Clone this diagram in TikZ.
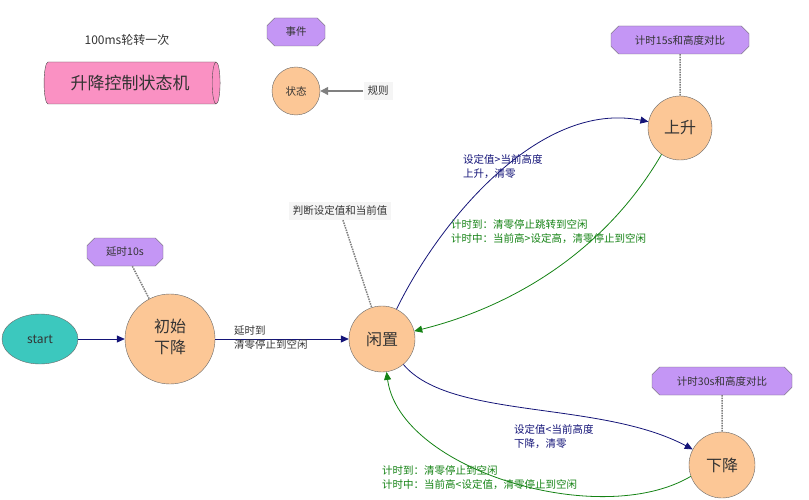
\documentclass[tikz,border=0pt]{standalone}
\usepackage{fontspec}
\setmainfont{Noto Sans CJK SC}
\usetikzlibrary{shapes.geometric, shapes.misc, arrows.meta}
\definecolor{zhuang}{RGB}{252,199,150}
\definecolor{shijian}{RGB}{196,150,245}
\definecolor{fen}{RGB}{250,145,195}
\definecolor{qing}{RGB}{60,200,190}
\definecolor{lan}{RGB}{20,20,120}
\definecolor{lv}{RGB}{20,130,20}
\begin{document}
\begin{tikzpicture}[x=1pt, y=-1pt]
            \tikzstyle{every node} = [font=\fontsize{10.5}{14}\selectfont, text=black!80]
            \tikzstyle{zt}  = [circle, draw=black!60, fill=zhuang, inner sep=0pt]
            \tikzstyle{sj}  = [chamfered rectangle, chamfered rectangle angle=45, chamfered rectangle xsep=4pt, draw=black!60, fill=shijian, minimum height=28pt, inner sep=4pt]
            \tikzstyle{gz}  = [fill=black!4, inner sep=4pt]
            \tikzstyle{dian} = [densely dotted, line width=1.5pt, draw=black!50]
            \tikzstyle{lanjt} = [thick, draw=lan, -{Triangle[length=8pt, width=7pt]}]
            \tikzstyle{lvjt} = [thick, draw=lv, -{Triangle[length=8pt, width=7pt]}]
            \tikzstyle{biao} = [align=left, anchor=west, inner sep=1pt]

            \useasboundingbox (0,0) rectangle (809,500);

            % legend
            \node (zhouqi) at (127,40) {\fontsize{12}{14}\selectfont 100ms轮转一次};
            \node[cylinder, shape border rotate=0, draw=black!70, fill=fen, aspect=0.5, minimum width=42pt, minimum height=176pt, inner sep=0pt] (jiqi) at (130,83) {\fontsize{17}{19}\selectfont 升降控制状态机};
            \node[sj, minimum width=58pt] (shijian) at (296,32) {事件};
            \node[zt, minimum size=48pt] (zhuangtai) at (296,91) {状态};
            \node[gz] (guize) at (378,91) {规则};
            \draw[very thick, draw=black!50, -{Triangle[length=8pt, width=8pt]}] (guize) -- (zhuangtai);

            % states
            \node[ellipse, draw=black!60, fill=qing, minimum width=76pt, minimum height=50pt] (start) at (40,339) {\fontsize{12}{14}\selectfont start};
            \node[zt, minimum size=90pt] (chushi) at (170,339) {\fontsize{16}{21}\selectfont\begin{tabular}{c}初始\\下降\end{tabular}};
            \node[zt, minimum size=66pt] (xianzhi) at (382,339) {\fontsize{16}{19}\selectfont 闲置};
            \node[zt, minimum size=64pt] (shangsheng) at (680,128) {\fontsize{16}{19}\selectfont 上升};
            \node[zt, minimum size=66pt] (xiajiang) at (722,465) {\fontsize{16}{19}\selectfont 下降};

            % notes
            \node[sj, minimum width=76pt] (yanshi) at (125,252) {延时10s};
            \node[gz] (panduan) at (340,211) {判断设定值和当前值};
            \node[sj, minimum width=138pt] (ji15) at (680,40) {计时15s和高度对比};
            \node[sj, minimum width=140pt] (ji30) at (722,381) {计时30s和高度对比};
            \draw[dian] (yanshi) -- (chushi);
            \draw[dian] (panduan) -- (xianzhi);
            \draw[dian] (ji15) -- (shangsheng);
            \draw[dian] (ji30) -- (xiajiang);

            % transitions
            \draw[lanjt] (start) -- (chushi);
            \draw[lanjt] (chushi) -- (xianzhi);
            \node[biao] (l1) at (233,338) {延时到\\清零停止到空闲};
            \draw[lanjt] (xianzhi) .. controls (440,220) and (540,100) .. (shangsheng);
            \node[biao, text=lan] (l2) at (462,167) {设定值>当前高度\\上升，清零};
            \draw[lvjt] (shangsheng.235) .. controls (600,260) and (500,310) .. (xianzhi);
            \node[biao, text=lv] (l3) at (450,232) {计时到：清零停止跳转到空闲\\计时中：当前高>设定高，清零停止到空闲};
            \draw[lanjt] (xianzhi) .. controls (450,420) and (600,400) .. (xiajiang);
            \node[biao, text=lan] (l4) at (513,437) {设定值<当前高度\\下降，清零};
            \draw[lvjt] (xiajiang.200) .. controls (600,530) and (400,470) .. (xianzhi);
            \node[biao, text=lv] (l5) at (381,478) {计时到：清零停止到空闲\\计时中：当前高<设定值，清零停止到空闲};
\end{tikzpicture}
\end{document}
